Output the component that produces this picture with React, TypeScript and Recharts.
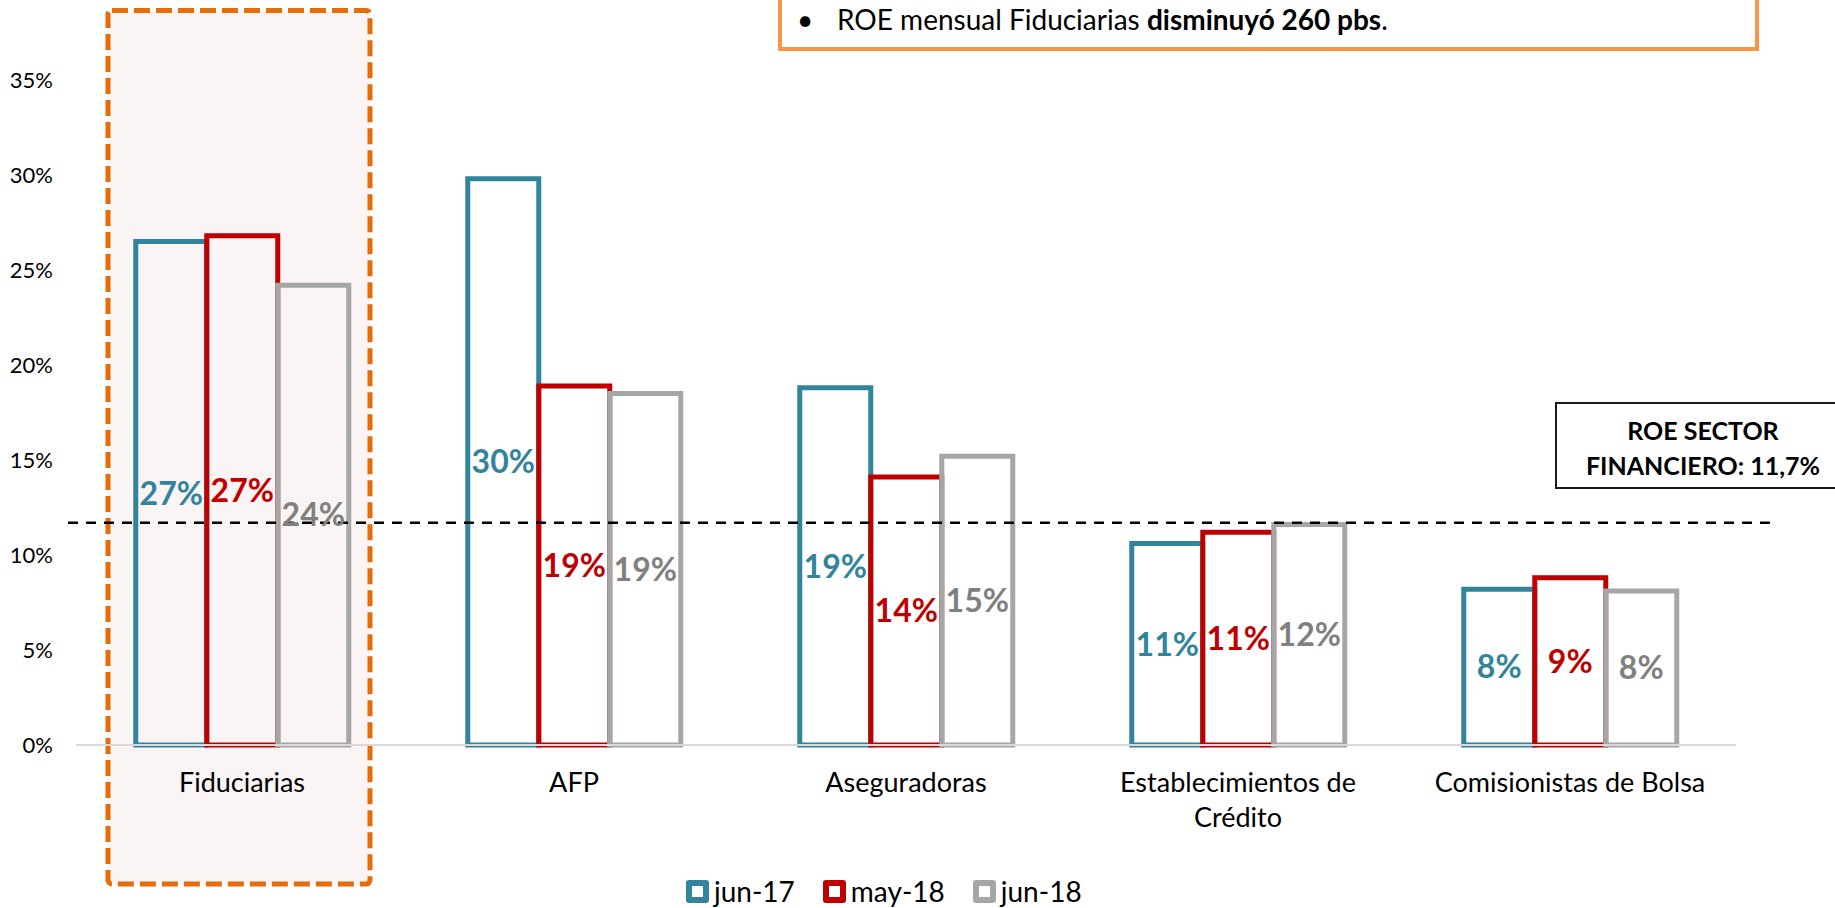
import { Bar, BarChart, LabelList, Legend, ReferenceArea, ReferenceLine, XAxis, YAxis } from "recharts";

const CATEGORIES = ["Fiduciarias", "AFP", "Aseguradoras", "Establecimientos de Crédito", "Comisionistas de Bolsa"];
const SERIES_NAMES = ["jun-17", "may-18", "jun-18"];
const JUN_17 = [26.5, 29.8, 18.8, 10.6, 8.2];
const MAY_18 = [26.8, 18.9, 14.1, 11.2, 8.8];
const JUN_18 = [24.2, 18.5, 15.2, 11.6, 8.1];
const Y_TICKS = [0, 5, 10, 15, 20, 25, 30, 35];
const SECTOR_ROE = 11.7;
// highlight box around the first category, in axis units
const HIGHLIGHT_TOP = 38.66;
const HIGHLIGHT_BOTTOM = -7.32;

const SERIES_VALUES = [JUN_17, MAY_18, JUN_18];
const BAR_COLORS = ["#31849B", "#C00000", "#A6A6A6"];
const LABEL_COLORS = ["#31849B", "#C00000", "#808080"];
const FONT = "Lato, 'Open Sans', sans-serif";
const TICK_FONT_SIZE = 27;
const TICK_WRAP_WIDTH = 290;

const data = CATEGORIES.map((category, i) => {
  const row: Record<string, string | number> = { category };
  SERIES_VALUES.forEach((vals, s) => {
    row[`s${s}`] = vals[i];
  });
  return row;
});

const pct = (v: number) => `${Math.round(v)}%`;

let measureCtx: CanvasRenderingContext2D | null = null;
function textWidth(s: string) {
  if (!measureCtx) measureCtx = document.createElement("canvas").getContext("2d");
  if (!measureCtx) return s.length * TICK_FONT_SIZE * 0.5;
  measureCtx.font = `${TICK_FONT_SIZE}px ${FONT}`;
  return measureCtx.measureText(s).width;
}

function wrapLabel(label: string) {
  const lines: string[] = [];
  let current = "";
  for (const word of label.split(" ")) {
    const next = current ? `${current} ${word}` : word;
    if (current && textWidth(next) > TICK_WRAP_WIDTH) {
      lines.push(current);
      current = word;
    } else {
      current = next;
    }
  }
  if (current) lines.push(current);
  return lines;
}

function CategoryTick({ x, y, payload }: any) {
  const lines = wrapLabel(String(payload.value));
  return (
    <text x={x} y={y + 47} textAnchor="middle" fill="#000" fontSize={TICK_FONT_SIZE} fontFamily={FONT}>
      {lines.map((line, i) => (
        <tspan key={i} x={x} dy={i === 0 ? 0 : 35}>
          {line}
        </tspan>
      ))}
    </text>
  );
}

function HighlightBox({ x, y, width, height }: any) {
  const cx = x + width / 2 - 3;
  return (
    <rect
      x={cx - 131}
      y={y}
      width={262}
      height={height}
      rx={4}
      fill="#FBF4F4"
      stroke="#E46C0A"
      strokeWidth={5}
      strokeDasharray="16 6"
    />
  );
}

function SectorLine({ x1, y1, x2, y2 }: any) {
  return (
    <line x1={x1 - 8} y1={y1} x2={x2 + 41} y2={y2} stroke="#000" strokeWidth={2.5} strokeDasharray="10 8" />
  );
}

function LegendContent() {
  return (
    <div style={{ display: "flex", alignItems: "center", gap: 28, fontFamily: FONT, fontSize: 28, lineHeight: "32px", color: "#000" }}>
      {SERIES_NAMES.map((name, i) => (
        <div key={name} style={{ display: "flex", alignItems: "center" }}>
          <span
            style={{
              display: "inline-block",
              width: 23,
              height: 23,
              boxSizing: "border-box",
              border: `6px solid ${BAR_COLORS[i]}`,
              borderRadius: 3,
              marginRight: 5,
              background: "#fff",
            }}
          />
          <span>{name}</span>
        </div>
      ))}
    </div>
  );
}

export default function App() {
  return (
    <div style={{ position: "absolute", left: 0, top: 0, width: 1835, height: 908, overflow: "hidden", background: "#fff", fontFamily: FONT }}>
      <BarChart
        width={1835}
        height={908}
        data={data}
        margin={{ top: 80, right: 99, bottom: 0, left: 0 }}
        barCategoryGap="18%"
        barGap={0}
      >
        <XAxis
          dataKey="category"
          height={163}
          tickLine={false}
          tickSize={0}
          tickMargin={0}
          axisLine={{ stroke: "#D9D9D9", strokeWidth: 2 }}
          tick={<CategoryTick />}
          interval={0}
        />
        <YAxis
          width={76}
          domain={[0, 35]}
          ticks={Y_TICKS}
          tickFormatter={(v: number) => `${v}%`}
          axisLine={false}
          tickLine={false}
          tickSize={0}
          tickMargin={23}
          tick={{ fill: "#000", fontSize: 22, fontFamily: FONT }}
        />
        <ReferenceArea
          x1={CATEGORIES[0]}
          x2={CATEGORIES[0]}
          y1={HIGHLIGHT_BOTTOM}
          y2={HIGHLIGHT_TOP}
          ifOverflow="visible"
          shape={<HighlightBox />}
        />
        {SERIES_NAMES.map((name, i) => (
          <Bar
            key={name}
            dataKey={`s${i}`}
            name={name}
            fill="none"
            stroke={BAR_COLORS[i]}
            strokeWidth={5}
            isAnimationActive={false}
          >
            <LabelList
              dataKey={`s${i}`}
              position="center"
              formatter={(v: any) => pct(Number(v))}
              fill={LABEL_COLORS[i]}
              fontSize={32}
              fontWeight={700}
              fontFamily={FONT}
            />
          </Bar>
        ))}
        <ReferenceLine y={SECTOR_ROE} shape={<SectorLine />} />
        <Legend
          layout="horizontal"
          verticalAlign="middle"
          align="center"
          wrapperStyle={{ top: 875, left: 686, width: 460 }}
          content={<LegendContent />}
        />
      </BarChart>

      <div
        style={{
          position: "absolute",
          left: 778,
          top: -10,
          width: 981,
          height: 61,
          boxSizing: "border-box",
          border: "4px solid #F79646",
          background: "#fff",
        }}
      />
      <div style={{ position: "absolute", left: 797, top: 2, fontSize: 28, lineHeight: "34px", color: "#000" }}>•</div>
      <div style={{ position: "absolute", left: 837, top: 2, fontSize: 28, lineHeight: "34px", color: "#000", whiteSpace: "nowrap" }}>
        ROE mensual Fiduciarias <b>disminuyó 260 pbs</b>.
      </div>

      <div
        style={{
          position: "absolute",
          left: 1555,
          top: 402,
          width: 300,
          height: 87,
          boxSizing: "border-box",
          border: "2px solid #1a1a1a",
          background: "#fff",
        }}
      />
      <div
        style={{
          position: "absolute",
          left: 1565,
          top: 413,
          width: 276,
          textAlign: "center",
          fontSize: 25,
          fontWeight: 700,
          lineHeight: "35px",
          color: "#000",
        }}
      >
        ROE SECTOR
        <br />
        FINANCIERO: {String(SECTOR_ROE).replace(".", ",")}%
      </div>
    </div>
  );
}
